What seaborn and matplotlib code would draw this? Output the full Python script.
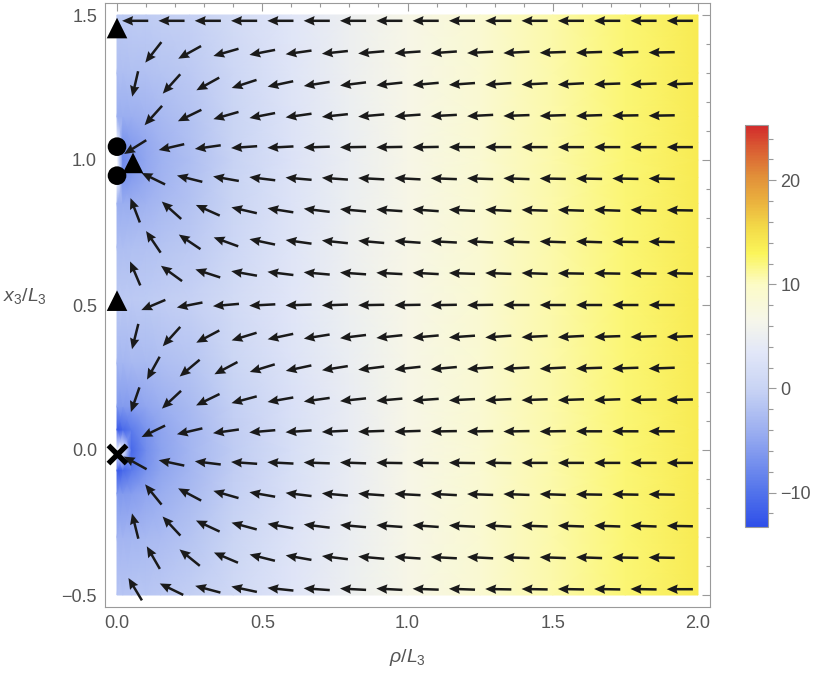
import numpy as np
import pandas as pd
import matplotlib
matplotlib.use('Agg')
import matplotlib.pyplot as plt
from matplotlib.colors import LinearSegmentedColormap, Normalize
from matplotlib.cm import ScalarMappable
from matplotlib.ticker import MultipleLocator
import seaborn as sns

# density values (colour-bar units)
rho_near = [0.0, 0.02, 0.05, 0.1, 0.15, 0.25, 0.4, 0.6, 0.8]
z_nodes = [-0.5, -0.3, -0.15, -0.07, 0.0, 0.07, 0.15, 0.3, 0.52,
           0.7, 0.85, 0.94, 1.0, 1.06, 1.15, 1.3, 1.5]
phi_near = [
    [-1.6, -1.6, -1.5, -1.4, -1.1, -0.6, 1.0, 3.2, 5.1],
    [-3.4, -3.4, -3.2, -3.0, -2.6, -1.8, 0.2, 2.7, 4.8],
    [-6.2, -6.2, -5.8, -5.0, -4.2, -2.8, -0.4, 2.3, 4.6],
    [-12.5, -11.0, -9.2, -6.8, -5.1, -3.2, -0.7, 2.1, 4.5],
    [-16.0, -15.0, -11.0, -7.3, -5.4, -3.3, -0.8, 2.0, 4.4],
    [-12.5, -11.0, -9.2, -6.8, -5.1, -3.2, -0.7, 2.1, 4.5],
    [-6.2, -6.2, -5.8, -5.0, -4.2, -2.8, -0.4, 2.3, 4.6],
    [-3.2, -3.2, -3.0, -2.8, -2.4, -1.7, 0.3, 2.8, 4.9],
    [-1.2, -1.2, -1.1, -1.0, -0.7, -0.3, 1.2, 3.3, 5.2],
    [-2.4, -2.4, -2.2, -2.1, -1.8, -1.2, 0.7, 3.1, 5.1],
    [-4.2, -4.2, -4.0, -3.6, -3.0, -1.9, 0.2, 2.8, 5.0],
    [30.0, -6.8, -5.9, -4.6, -3.6, -2.2, 0.0, 2.7, 4.9],
    [30.0, -7.8, -6.3, -4.8, -3.7, -2.3, -0.1, 2.6, 4.9],
    [30.0, -6.8, -5.9, -4.6, -3.6, -2.2, 0.0, 2.7, 4.9],
    [-4.2, -4.2, -4.0, -3.6, -3.0, -1.9, 0.2, 2.8, 5.0],
    [-2.4, -2.4, -2.2, -2.1, -1.8, -1.2, 0.7, 3.1, 5.1],
    [-1.0, -1.0, -0.9, -0.9, -0.6, -0.2, 1.3, 3.4, 5.2],
]
rho_far = [1.0, 1.25, 1.5, 1.75, 2.0]
phi_far = [6.9, 8.8, 10.7, 12.3, 13.9]

# arrow directions in degrees, top row first (even rows 16 arrows, odd rows 15)
arrow_angles = [
    [180] * 16,
    [232, 209, 196, 191, 188, 186, 185, 184, 184, 183, 183, 182, 182, 182, 181],
    [257, 228, 209, 198, 192, 189, 187, 186, 185, 184, 184, 183, 183, 182, 182, 182],
    [228, 206, 196, 191, 188, 186, 185, 184, 183, 183, 182, 182, 182, 181, 181],
    [212, 193, 188, 184, 183, 182, 181, 181, 181, 180, 180, 180, 180, 180, 180, 180],
    [154, 166, 170, 173, 175, 176, 177, 177, 178, 178, 178, 179, 179, 179, 179],
    [111, 138, 156, 167, 171, 173, 175, 176, 176, 177, 177, 178, 178, 178, 178, 179],
    [124, 146, 160, 168, 172, 174, 175, 176, 177, 177, 178, 178, 178, 179, 179],
    [113, 144, 162, 170, 173, 175, 176, 177, 177, 178, 178, 178, 179, 179, 179, 179],
    [203, 191, 185, 183, 182, 182, 181, 181, 181, 181, 180, 180, 180, 180, 180],
    [256, 228, 208, 197, 192, 189, 187, 186, 185, 184, 184, 183, 183, 182, 182, 182],
    [241, 220, 208, 197, 192, 189, 187, 186, 185, 184, 183, 183, 182, 182, 182],
    [251, 223, 206, 195, 190, 188, 186, 185, 184, 183, 183, 182, 182, 182, 181, 181],
    [206, 193, 188, 185, 184, 183, 182, 182, 181, 181, 181, 181, 180, 180, 180],
    [151, 168, 173, 176, 177, 178, 178, 179, 179, 179, 179, 180, 180, 180, 180, 180],
    [129, 152, 164, 170, 173, 175, 176, 177, 177, 178, 178, 178, 179, 179, 179],
    [104, 133, 155, 165, 170, 173, 175, 176, 176, 177, 177, 178, 178, 178, 178, 179],
    [120, 141, 157, 166, 170, 173, 175, 176, 177, 177, 178, 178, 178, 179, 179],
    [121, 154, 165, 168, 174, 176, 177, 177, 178, 178, 179, 179, 179, 179, 179, 180],
]

# colour bar stops
cbar_values = [-13.3, -10, -4.5, 0, 3.5, 6.5, 10, 13, 15.5, 18, 20.5, 23, 25.3]
cbar_colors = ['#2f4fe9', '#5273eb', '#97abf0', '#c9d4f4', '#e2e7f8', '#f6f6ea',
               '#fcfbc6', '#fbf55a', '#f3da48', '#eab13e', '#e18e39', '#da5e33', '#d22b2b']

# special points on the axis
triangle_rho = [0.0, 0.055, 0.0]
triangle_z = [1.455, 0.99, 0.515]
circle_rho = [0.0, 0.0]
circle_z = [1.046, 0.946]
cross_rho = [0.0]
cross_z = [-0.015]

sns.set_style('white')
plt.rcParams['font.family'] = ['Liberation Sans', 'DejaVu Sans']
plt.rcParams['mathtext.fontset'] = 'custom'
plt.rcParams['mathtext.rm'] = 'Liberation Sans'
plt.rcParams['mathtext.it'] = 'Liberation Sans:italic'

fig = plt.figure(figsize=(8.3, 6.81), dpi=100)
ax = fig.add_axes([105.4 / 830, 1 - 606.6 / 681, 604.2 / 830, 603.2 / 681])
cax = fig.add_axes([745 / 830, 1 - 527 / 681, 23 / 830, 402 / 681])

vmin, vmax = cbar_values[0], cbar_values[-1]
stops = [(v - vmin) / (vmax - vmin) for v in cbar_values]
cmap = LinearSegmentedColormap.from_list('temperature', list(zip(stops, cbar_colors)))
cmap.set_under('white')
cmap.set_over('white')
norm = Normalize(vmin, vmax)

# density background
rho_all = np.concatenate([rho_near, rho_far])
phi = np.hstack([np.array(phi_near), np.tile(phi_far, (len(z_nodes), 1))])
R, Z = np.meshgrid(rho_all, z_nodes)
ax.pcolormesh(R, Z, phi, shading='gouraud', cmap=cmap, norm=norm, zorder=1)

# vector field on a staggered grid
arrow_z = np.linspace(1.48, -0.48, len(arrow_angles))
x_even = 0.0625 + 0.125 * np.arange(16)
x_odd = 0.125 * np.arange(1, 16)
rows = []
for k, angles in enumerate(arrow_angles):
    xs = x_even if k % 2 == 0 else x_odd
    for x, a in zip(xs, angles):
        rows.append((x, arrow_z[k], a))
arrows = pd.DataFrame(rows, columns=['rho', 'z', 'angle'])
u = np.cos(np.radians(arrows['angle']))
v = np.sin(np.radians(arrows['angle']))
ax.quiver(arrows['rho'], arrows['z'], u, v, pivot='middle', angles='xy',
          scale_units='xy', scale=1 / 0.09, units='dots', width=2.5,
          headwidth=3.8, headlength=4.4, headaxislength=4.0,
          color='#1a1a1a', zorder=3)

# markers
sns.scatterplot(x=triangle_rho, y=triangle_z, marker='^', s=220, color='black',
                edgecolor='none', ax=ax, zorder=4, clip_on=False)
sns.scatterplot(x=circle_rho, y=circle_z, marker='o', s=180, color='black',
                edgecolor='none', ax=ax, zorder=4, clip_on=False)
sns.scatterplot(x=cross_rho, y=cross_z, marker='x', s=170, color='black',
                linewidth=3.8, ax=ax, zorder=4, clip_on=False)

ax.set_xlim(-0.04, 2.04)
ax.set_ylim(-0.54, 1.54)
ax.set_xticks([0, 0.5, 1.0, 1.5, 2.0])
ax.set_xticklabels(['0.0', '0.5', '1.0', '1.5', '2.0'])
ax.set_yticks([-0.5, 0, 0.5, 1.0, 1.5])
ax.set_yticklabels(['\u22120.5', '0.0', '0.5', '1.0', '1.5'])
ax.xaxis.set_minor_locator(MultipleLocator(0.1))
ax.yaxis.set_minor_locator(MultipleLocator(0.1))
ax.tick_params(which='both', direction='in', top=True, right=True,
               color='#9a9a9a', width=0.8, labelcolor='#555555', labelsize=13)
ax.tick_params(which='major', length=5.5, pad=6)
ax.tick_params(which='minor', length=3)
for s in ax.spines.values():
    s.set_color('#9a9a9a')
    s.set_linewidth(0.8)

ax.set_xlabel(r'$\rho/L_3$', fontsize=14, color='#555555', labelpad=11)
ax.set_ylabel(r'$x_3/L_3$', fontsize=14, color='#555555', rotation=0,
              ha='center', va='center')
ax.yaxis.set_label_coords(-0.133, 0.515)

# colour bar
cb = fig.colorbar(ScalarMappable(norm=norm, cmap=cmap), cax=cax)
cb.set_ticks([-10, 0, 10, 20])
cb.set_ticklabels(['\u221210', '0', '10', '20'])
cax.yaxis.set_minor_locator(MultipleLocator(2))
cax.tick_params(which='both', direction='out', color='#9a9a9a', width=0.8,
                labelcolor='#555555', labelsize=13)
cax.tick_params(which='major', length=6, pad=3)
cax.tick_params(which='minor', length=3.5)
cb.outline.set_edgecolor('#9a9a9a')
cb.outline.set_linewidth(0.8)

fig.savefig('out.png', dpi=100)
